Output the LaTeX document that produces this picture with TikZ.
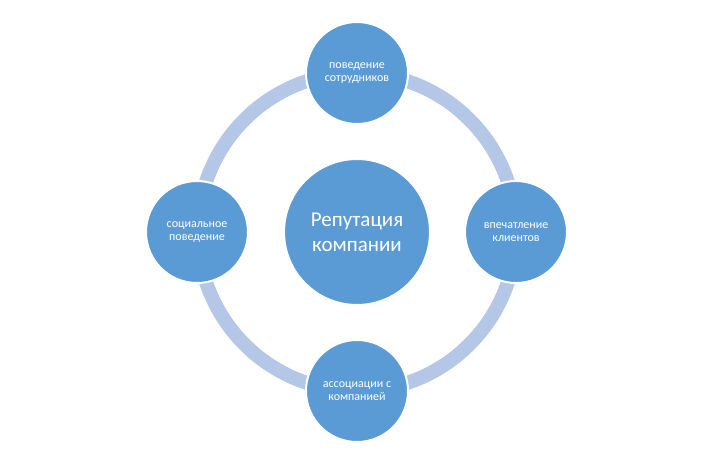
\documentclass[tikz,border=0pt]{standalone}
\usepackage{fontspec}
\setmainfont{Carlito}
\definecolor{circblue}{HTML}{5B9BD5}
\definecolor{ringblue}{HTML}{B4C7E7}
\tikzset{
	topic/.style={circle, fill=circblue, draw=white, line width=2, minimum size=102, align=center, text=white, font=\fontsize{12}{13.5}\selectfont},
	hub/.style={circle, fill=circblue, draw=white, line width=2, minimum size=146, align=center, text=white, font=\fontsize{21}{25}\selectfont}
}
\begin{document}
\begin{tikzpicture}[y=1pt, x=1pt, yscale=-1.000000, xscale=1.000000, inner sep=0pt, outer sep=0pt]
	\useasboundingbox (0,0) rectangle (725,461);
	\node[hub] (REP) at (357,232) {Репутация\\компании};
	\draw[ringblue, line width=14] (REP.center) circle (159);
	\node[topic] (STAFF) at (357,73) {поведение\\сотрудников};
	\node[topic] (CLIENT) at (516,232) {впечатление\\клиентов};
	\node[topic] (ASSOC) at (357,391) {ассоциации с\\компанией};
	\node[topic] (SOCIAL) at (197,232) {социальное\\поведение};
\end{tikzpicture}
\end{document}
